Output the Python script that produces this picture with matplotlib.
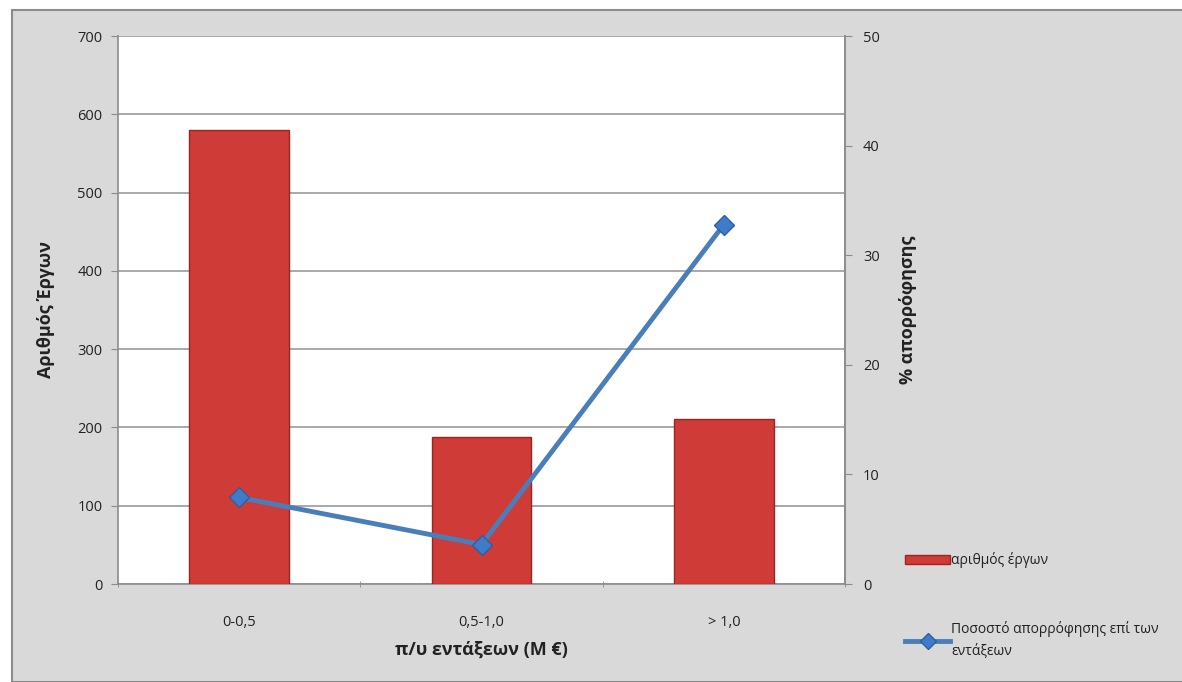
import matplotlib.pyplot as plt
import numpy as np
from matplotlib.patches import Rectangle
from matplotlib.lines import Line2D

plt.rcParams['font.family'] = ['Open Sans', 'DejaVu Sans']

# Data
categories = ["0-0,5", "0,5-1,0", "> 1,0"]
projects = [580, 188, 211]
absorption = [7.9, 3.6, 32.8]

BAR_LABEL = "αριθμός έργων"
LINE_LABEL = "Ποσοστό απορρόφησης επί των\nεντάξεων"

BG = "#d9d9d9"
BAR_COLOR = "#cf3b37"
LINE_COLOR = "#4a7ebb"
GRID_COLOR = "#9a9a9a"
TEXT_COLOR = "#222222"

fig = plt.figure(figsize=(11.82, 6.82), dpi=100)
fig.patch.set_facecolor("white")

# chart area (grey panel with a border), kept behind the axes
panel = Rectangle((12 / 1182, 0), 1.0, 1 - 10 / 682, transform=fig.transFigure,
                  facecolor=BG, edgecolor="#8c8c8c", linewidth=1.5, zorder=-10)
fig.add_artist(panel)

ax = fig.add_axes([118 / 1182, 98 / 682, 727 / 1182, 548 / 682])
ax.set_facecolor("white")

x = np.arange(len(categories))
bars = ax.bar(x, projects, width=0.41, color=BAR_COLOR, edgecolor="#9e2420",
              linewidth=1.0, zorder=3, label=BAR_LABEL)

ax.set_xlim(-0.5, len(categories) - 0.5)
ax.set_ylim(0, 700)
ax.set_yticks(range(0, 701, 100))
ax.yaxis.grid(True, color=GRID_COLOR, linewidth=1.2, zorder=1)
ax.set_axisbelow(True)

ax.set_xticks(x)
ax.set_xticklabels(categories)
ax.set_xticks(np.arange(-0.5, len(categories), 1.0), minor=True)
ax.tick_params(axis="x", which="major", length=0, pad=22, labelsize=10.5, labelcolor=TEXT_COLOR)
ax.tick_params(axis="x", which="minor", length=5, color="#8c8c8c", direction="inout")
ax.tick_params(axis="y", length=5, color="#8c8c8c", direction="out", pad=6,
               labelsize=10.5, labelcolor=TEXT_COLOR)

ax.spines["top"].set_visible(False)
for side in ["left", "right", "bottom"]:
    ax.spines[side].set_color("#8c8c8c")
    ax.spines[side].set_linewidth(1.2)

ax.set_xlabel("π/υ εντάξεων (M €)", fontsize=13, fontweight="bold", color=TEXT_COLOR, labelpad=8)
ax.set_ylabel("Αριθμός Έργων", fontsize=13, fontweight="bold", color=TEXT_COLOR, labelpad=16)

ax2 = ax.twinx()
ax2.set_ylim(0, 50)
ax2.set_yticks(range(0, 51, 10))
ax2.plot(x, absorption, color=LINE_COLOR, linewidth=3.5, marker="D", markersize=10,
         markerfacecolor="#3f7bc8", markeredgecolor="#2f5f9e", zorder=5, label=LINE_LABEL)
ax2.tick_params(axis="y", length=5, color="#8c8c8c", direction="out", pad=8,
                labelsize=10.5, labelcolor=TEXT_COLOR)
for side in ["top", "left", "bottom"]:
    ax2.spines[side].set_visible(False)
ax2.spines["right"].set_color("#8c8c8c")
ax2.spines["right"].set_linewidth(1.2)
ax2.set_ylabel("% απορρόφησης", fontsize=13, fontweight="bold", color=TEXT_COLOR,
               rotation=90, labelpad=14)

# legend on the right, outside the plot
handles = [
    Rectangle((0, 0), 1, 1, facecolor=BAR_COLOR, edgecolor="#9e2420"),
    Line2D([0], [0], color=LINE_COLOR, linewidth=3.5, marker="D", markersize=8,
           markerfacecolor="#3f7bc8", markeredgecolor="#2f5f9e"),
]
leg = fig.legend(handles, [BAR_LABEL, LINE_LABEL], loc="upper left",
                 bbox_to_anchor=(893 / 1182, 1 - 540 / 682), frameon=False,
                 fontsize=10, labelspacing=3.8, handlelength=3.2, handleheight=0.6,
                 handletextpad=0.1, labelcolor=TEXT_COLOR)
for t in leg.get_texts():
    t.set_linespacing(1.6)

fig.savefig("out.png", dpi=100, facecolor=fig.get_facecolor())
